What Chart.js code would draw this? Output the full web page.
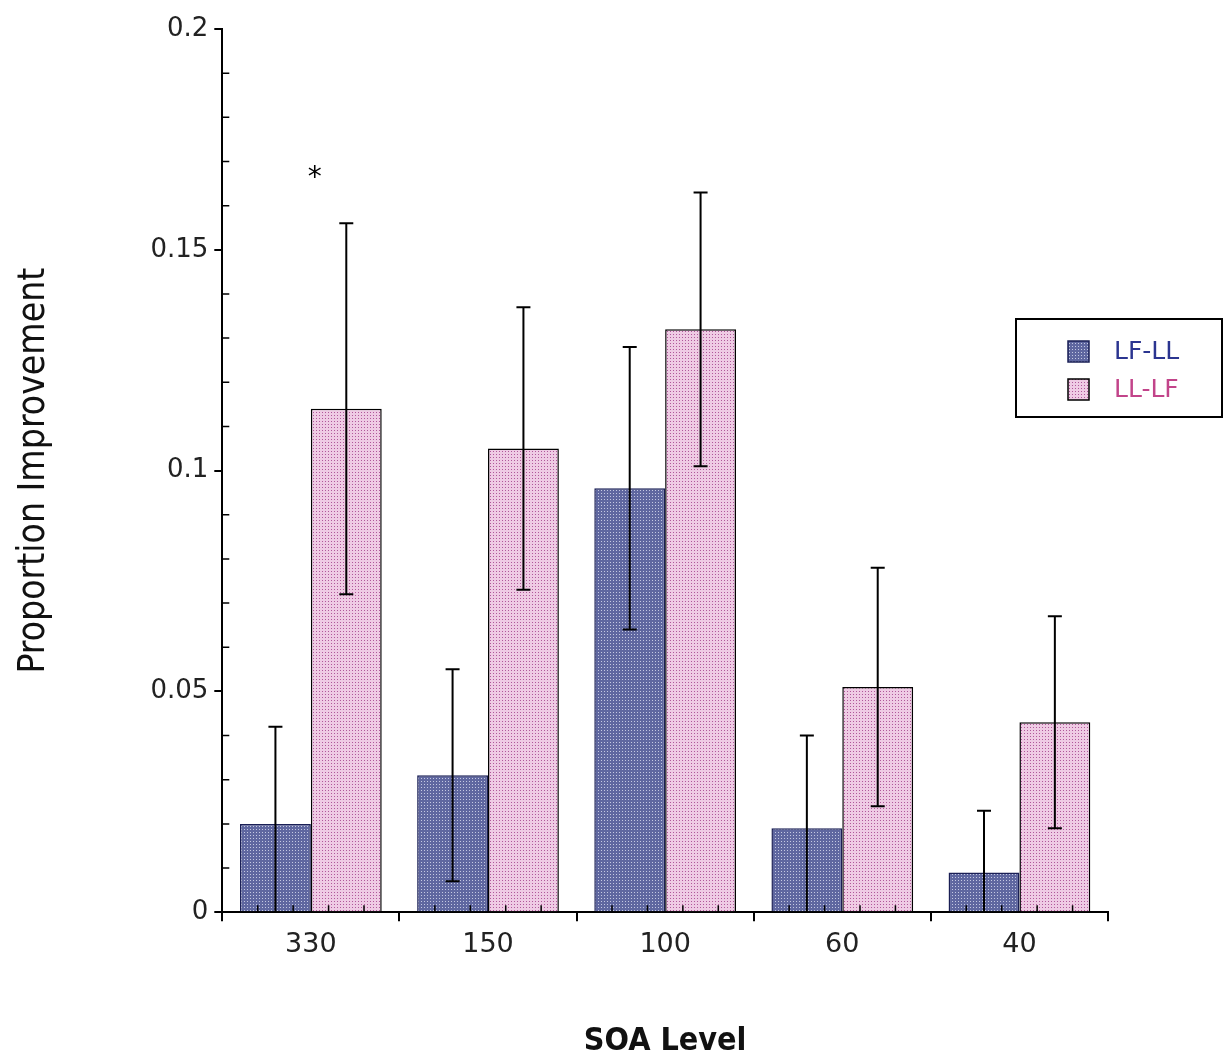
<!DOCTYPE html>
<html>
<head>
<meta charset="utf-8">
<script src="https://cdn.jsdelivr.net/npm/chart.js@4.4.0/dist/chart.umd.min.js"></script>
<style>
  html, body { margin: 0; padding: 0; background: #fff; }
  #wrap { width: 1225px; height: 1061px; }
</style>
</head>
<body>
<div id="wrap"><canvas id="myChart" width="1225" height="1061"></canvas></div>
<script>
const soaLevels = ["330", "150", "100", "60", "40"];
const lfll = [0.020, 0.031, 0.096, 0.019, 0.009];
const llfl = [0.114, 0.105, 0.132, 0.051, 0.043];
const lfllErr = [0.022, 0.024, 0.032, 0.021, 0.014];
const llflErr = [0.042, 0.032, 0.031, 0.027, 0.024];
const seriesNames = ["LF-LL", "LL-LF"];
const seriesText = ["#2b3590", "#c2448a"];
const yMajor = [0, 0.05, 0.1, 0.15, 0.2];
const starAt = { category: "330", value: 0.166 };

const makeDots = (bg, dot) => {
  const c = document.createElement("canvas");
  c.width = 3;
  c.height = 3;
  const g = c.getContext("2d");
  g.fillStyle = bg;
  g.fillRect(0, 0, 3, 3);
  g.fillStyle = dot;
  g.fillRect(1, 1, 1, 1);
  return g.createPattern(c, "repeat");
};

const bluePattern = makeDots("#5f67a0", "#c4c8e2");
const pinkPattern = makeDots("#efcbe4", "#b0589a");

// error bars, minor ticks, asterisk and legend box
const extras = {
  id: "extras",
  afterDatasetsDraw(chart) {
    const ctx = chart.ctx;
    const x = chart.scales.x;
    const y = chart.scales.y;
    const area = chart.chartArea;
    const errs = [lfllErr, llflErr];

    ctx.save();
    ctx.strokeStyle = "#000";
    ctx.lineWidth = 2;
    chart.data.datasets.forEach((ds, i) => {
      const meta = chart.getDatasetMeta(i);
      meta.data.forEach((bar, j) => {
        const v = ds.data[j];
        const hi = y.getPixelForValue(v + errs[i][j]);
        const loVal = v - errs[i][j];
        const lo = y.getPixelForValue(Math.max(loVal, 0));
        ctx.beginPath();
        ctx.moveTo(bar.x, hi);
        ctx.lineTo(bar.x, lo);
        ctx.moveTo(bar.x - 7, hi);
        ctx.lineTo(bar.x + 7, hi);
        if (loVal > 0) {
          ctx.moveTo(bar.x - 7, lo);
          ctx.lineTo(bar.x + 7, lo);
        }
        ctx.stroke();
      });
    });

    // minor ticks on the y axis, pointing inward
    ctx.lineWidth = 1.5;
    ctx.beginPath();
    for (let k = 1; k < 20; k++) {
      if (k % 5 === 0) continue;
      const py = y.getPixelForValue(k / 100);
      ctx.moveTo(area.left, py);
      ctx.lineTo(area.left + 7, py);
    }
    // minor ticks on the x axis, pointing up
    const step = (area.right - area.left) / soaLevels.length;
    for (let c = 0; c < soaLevels.length; c++) {
      for (let k = 1; k < 5; k++) {
        const px = area.left + c * step + (k * step) / 5;
        ctx.moveTo(px, area.bottom);
        ctx.lineTo(px, area.bottom - 7);
      }
    }
    ctx.stroke();

    // asterisk
    ctx.fillStyle = "#000";
    ctx.font = "28px 'DejaVu Sans'";
    ctx.textAlign = "center";
    ctx.textBaseline = "middle";
    ctx.fillText("*", x.getPixelForValue(soaLevels.indexOf(starAt.category)) + 4, y.getPixelForValue(starAt.value));

    // legend
    const lx = 1016, ly = 319, lw = 206, lh = 98;
    ctx.lineWidth = 2;
    ctx.strokeRect(lx, ly, lw, lh);
    ctx.font = "25px 'DejaVu Sans'";
    ctx.textAlign = "left";
    chart.data.datasets.forEach((ds, i) => {
      const sy = ly + 22 + i * 38;
      ctx.fillStyle = ds.backgroundColor;
      ctx.fillRect(lx + 52, sy, 21, 21);
      ctx.lineWidth = 1.5;
      ctx.strokeStyle = ds.borderColor;
      ctx.strokeRect(lx + 52, sy, 21, 21);
      ctx.fillStyle = seriesText[i];
      ctx.fillText(ds.label, lx + 98, sy + 11);
    });
    ctx.restore();
  },
};

const drawGraph = () => {
  const ctx = document.getElementById("myChart").getContext("2d");
  new Chart(ctx, {
    type: "bar",
    data: {
      labels: soaLevels,
      datasets: [
        {
          label: seriesNames[0],
          data: lfll,
          backgroundColor: bluePattern,
          borderColor: "#1a1f55",
          borderWidth: 1.5,
        },
        {
          label: seriesNames[1],
          data: llfl,
          backgroundColor: pinkPattern,
          borderColor: "#000",
          borderWidth: 1.5,
        },
      ],
    },
    options: {
      responsive: false,
      animation: false,
      layout: { padding: { top: 29, right: 117, left: 12, bottom: 0 } },
      plugins: { legend: { display: false }, tooltip: { enabled: false } },
      datasets: { bar: { categoryPercentage: 0.8, barPercentage: 1.0 } },
      scales: {
        x: {
          border: { color: "#000", width: 2 },
          grid: { drawOnChartArea: false, color: "#000", tickLength: 9, lineWidth: 2 },
          ticks: { color: "#222", font: { family: "DejaVu Sans", size: 27 }, padding: 8 },
          title: {
            display: true,
            text: "SOA Level",
            color: "#111",
            font: { family: "DejaVu Sans Condensed", size: 32, weight: "bold" },
            padding: { top: 53, bottom: 0 },
          },
        },
        y: {
          min: 0,
          max: 0.2,
          border: { color: "#000", width: 2 },
          grid: { drawOnChartArea: false, color: "#000", tickLength: 8, lineWidth: 2 },
          afterBuildTicks: (scale) => {
            scale.ticks = yMajor.map((v) => ({ value: v }));
          },
          ticks: {
            color: "#222",
            font: { family: "DejaVu Sans", size: 26 },
            padding: 6,
            callback: (v) => String(Math.round(v * 100) / 100),
          },
          title: {
            display: true,
            text: "Proportion Improvement",
            color: "#111",
            font: { family: "DejaVu Sans Condensed", size: 37 },
            padding: { top: 0, bottom: 88 },
          },
        },
      },
    },
    plugins: [extras],
  });
};

drawGraph();
</script>
</body>
</html>
